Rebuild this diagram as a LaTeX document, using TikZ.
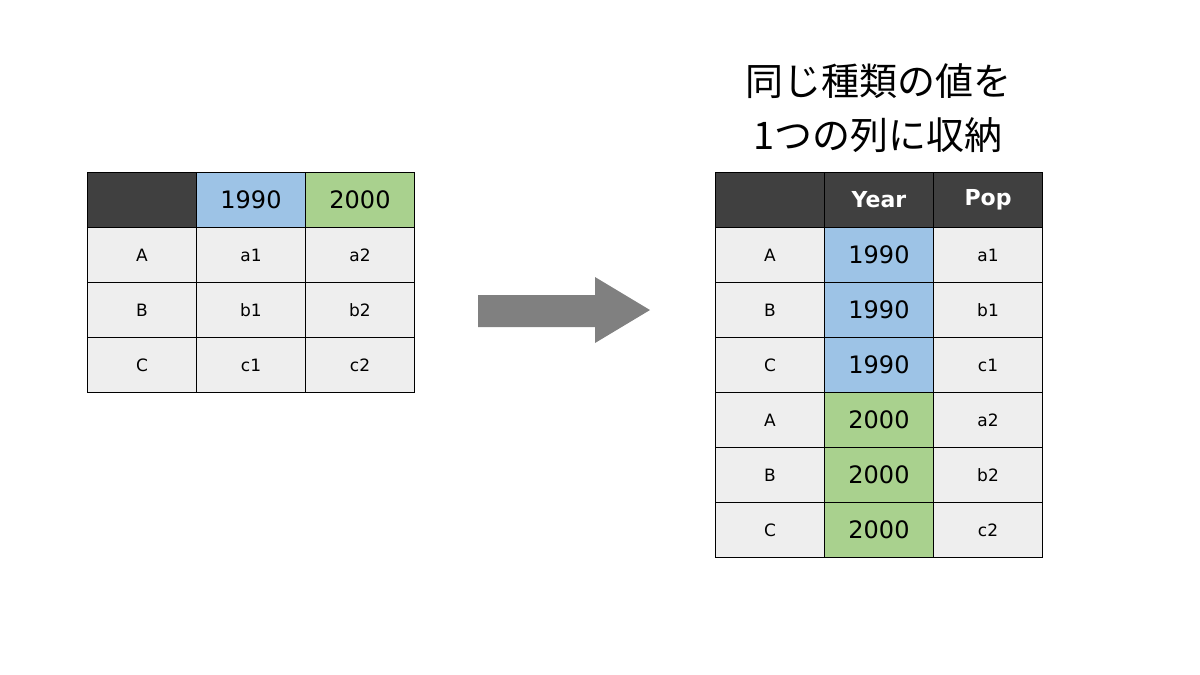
\documentclass[tikz,border=0pt]{standalone}
\usepackage{fontspec}
\setmainfont{DejaVu Sans}
\newfontfamily\jp{Noto Sans CJK JP}
\begin{document}
\begin{tikzpicture}[x=1pt,y=-1pt,
 cell/.style={draw=black,line width=1pt,minimum width=109pt,minimum height=55pt,inner sep=0pt,anchor=north west,font=\fontsize{17}{20}\selectfont},
 big/.style={font=\fontsize{24}{28}\selectfont},
 hdr/.style={fill=hdrgray,text=white,font=\bfseries\fontsize{22}{26}\selectfont},
 lt/.style={fill=cellgray}]
\definecolor{hdrgray}{HTML}{404040}
\definecolor{cellgray}{HTML}{EEEEEE}
\definecolor{bl}{HTML}{9DC3E6}
\definecolor{gr}{HTML}{A9D18E}
\definecolor{arr}{HTML}{808080}
\useasboundingbox (0,0) rectangle (1200,675);
% left table
\node[cell,hdr] (l00) at (87,172) {};
\node[cell,fill=bl,big] (l01) at (196,172) {1990};
\node[cell,fill=gr,big] (l02) at (305,172) {2000};
\foreach \r/\n/\a/\b [count=\i] in {1/A/a1/a2,2/B/b1/b2,3/C/c1/c2}{
 \node[cell,lt] (l\r0) at (87,172+55*\i) {\n};
 \node[cell,lt] (l\r1) at (196,172+55*\i) {\a};
 \node[cell,lt] (l\r2) at (305,172+55*\i) {\b};
}
% arrow
\fill[arr] (478,295) -- (595,295) -- (595,277) -- (650,310) -- (595,343) -- (595,327) -- (478,327) -- cycle;
% title
\node[font=\jp\fontsize{38}{54}\selectfont,align=center] (title) at (878,108) {同じ種類の値を\\1つの列に収納};
% right table
\node[cell,hdr] (r00) at (715,172) {};
\node[cell,hdr] (r01) at (824,172) {Year};
\node[cell,hdr] (r02) at (933,172) {Pop};
\foreach \n/\y/\c/\v [count=\i] in {A/1990/bl/a1,B/1990/bl/b1,C/1990/bl/c1,A/2000/gr/a2,B/2000/gr/b2,C/2000/gr/c2}{
 \node[cell,lt] (r\i0) at (715,172+55*\i) {\n};
 \node[cell,fill=\c,big] (r\i1) at (824,172+55*\i) {\y};
 \node[cell,lt] (r\i2) at (933,172+55*\i) {\v};
}
\end{tikzpicture}
\end{document}
